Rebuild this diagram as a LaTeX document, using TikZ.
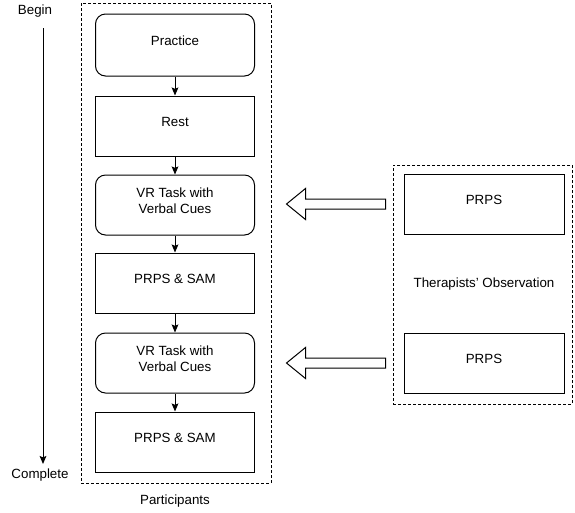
\documentclass[tikz,border=0pt]{standalone}
\usepackage{fontspec}
\setmainfont{Liberation Sans}
\usetikzlibrary{arrows.meta}
\tikzset{
  stepbox/.style={draw,line width=0.75pt,minimum width=119.25pt,minimum height=45pt,
    align=center,text depth=6pt,font=\fontsize{10}{12}\selectfont},
  roundbox/.style={stepbox,rounded corners=7.5pt},
  groupbox/.style={draw,dashed,line width=0.75pt,dash pattern=on 2.25pt off 1.5pt},
  flow/.style={-{Stealth[length=6pt,width=5pt,inset=1pt]},line width=0.75pt},
  blockarrow/.style={draw,line width=0.75pt,fill=white},
  plain/.style={font=\fontsize{10}{12}\selectfont}
}
\begin{document}
\begin{tikzpicture}[x=0.75pt,y=-0.75pt]
  \useasboundingbox (0,0) rectangle (575,512);
  % participants column
  \node[groupbox,minimum width=142.5pt,minimum height=360pt] (participants) at (176,243) {};
  \node[plain] (partlabel) at (175,501) {Participants};
  \node[roundbox,minimum height=46.5pt] (practice) at (175,45) {Practice};
  \node[stepbox] (rest) at (175,126) {Rest};
  \node[roundbox] (vrA) at (175,205) {VR Task with\\Verbal Cues};
  \node[stepbox] (samA) at (175,283) {PRPS \& SAM};
  \node[roundbox] (vrB) at (175,363) {VR Task with\\Verbal Cues};
  \node[stepbox] (samB) at (175,442) {PRPS \& SAM};
  \begin{scope}[flow]
    \draw (practice) to (rest);
    \draw (rest) to (vrA);
    \draw (vrA) to (samA);
    \draw (samA) to (vrB);
    \draw (vrB) to (samB);
  \end{scope}
  % therapists column
  \node[groupbox,minimum width=134.25pt,minimum height=179.25pt] (therapists) at (482.5,284.5) {};
  \node[stepbox,minimum width=120pt] (prpsA) at (484,204) {PRPS};
  \node[stepbox,minimum width=120pt] (prpsB) at (484,363) {PRPS};
  \node[plain] (obslabel) at (484,284) {Therapists' Observation};
  % block arrows
  \foreach \src in {prpsA,prpsB}
    \draw[blockarrow] (\src.west) ++(-18,-5) -- ++(-80,0) -- ++(0,-10.5) -- ++(-19,15.5)
      -- ++(19,15.5) -- ++(0,-10.5) -- ++(80,0) -- cycle;
  % time line
  \node[plain] (begin) at (35,11) {Begin};
  \node[plain] (complete) at (40,475) {Complete};
  \coordinate (tlstart) at (43,28);
  \coordinate (tlend) at (43,464);
  \draw[flow] (tlstart) -- (tlend);
\end{tikzpicture}
\end{document}
